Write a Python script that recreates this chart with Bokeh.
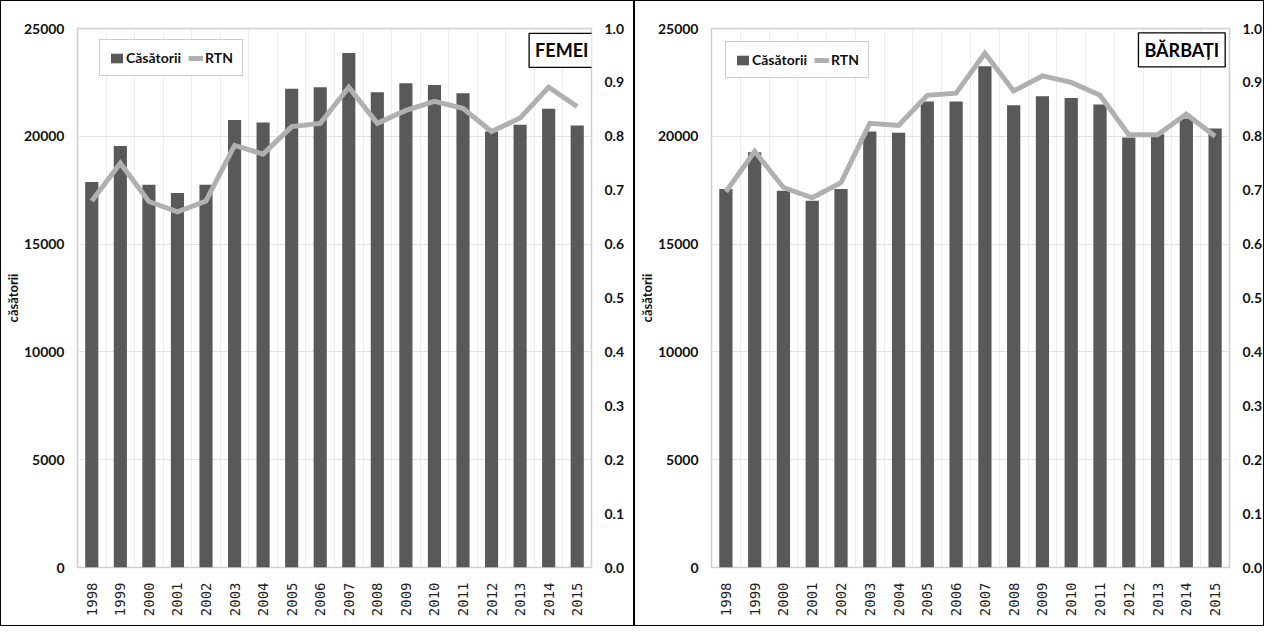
import numpy as np
from bokeh.plotting import figure
from bokeh.models import (Range1d, LinearAxis, FixedTicker, Legend, LegendItem, Label,
                          ColumnDataSource, PrintfTickFormatter)
from bokeh.layouts import row
from bokeh.embed import file_html
from bokeh.resources import INLINE

years = [str(y) for y in range(1998, 2016)]

femei_casatorii = [17880, 19550, 17750, 17370, 17750, 20760, 20640, 22200, 22280, 23860,
                   22040, 22460, 22380, 22000, 20220, 20530, 21280, 20500]
femei_rtn = [0.680, 0.750, 0.679, 0.660, 0.680, 0.783, 0.767, 0.818, 0.824, 0.891,
             0.824, 0.848, 0.865, 0.852, 0.809, 0.834, 0.891, 0.855]

barbati_casatorii = [17560, 19260, 17480, 17010, 17560, 20220, 20160, 21610, 21610, 23250,
                     21440, 21860, 21780, 21470, 19940, 20090, 20830, 20360]
barbati_rtn = [0.697, 0.772, 0.705, 0.686, 0.714, 0.824, 0.820, 0.876, 0.880, 0.954,
               0.884, 0.912, 0.900, 0.876, 0.803, 0.803, 0.841, 0.800]

left_ticks = [0, 5000, 10000, 15000, 20000, 25000]
right_ticks = [round(i / 10, 1) for i in range(11)]

BAR_COLOR = "#595959"
LINE_COLOR = "#b0b0b0"
FONT = "Lato"


def make_panel(title, cas, rtn, width, borders, legend_loc, title_xy):
    n = len(years)
    xs = list(range(n))
    src = ColumnDataSource(dict(x=xs, cas=cas, rtn=rtn))
    p = figure(width=width, height=626, output_backend="svg", toolbar_location=None,
               x_range=Range1d(-0.5, n - 0.5), y_range=Range1d(0, 25000),
               min_border_left=borders[0], min_border_right=borders[1],
               min_border_top=borders[2], min_border_bottom=borders[3],
               background_fill_color="white", border_fill_color="white")
    p.styles = {"border": "1px solid black", "box-sizing": "border-box"}
    p.outline_line_color = "#cfcfcf"
    p.outline_line_width = 1.5
    p.extra_y_ranges = {"rtn": Range1d(0, 1)}

    bars = p.vbar(x="x", top="cas", width=0.46, source=src, fill_color=BAR_COLOR,
                  line_color=None)
    line = p.line(x="x", y="rtn", source=src, y_range_name="rtn", line_color=LINE_COLOR,
                  line_width=5, line_join="miter")

    # x axis
    xa = p.xaxis[0]
    xa.ticker = FixedTicker(ticks=xs)
    xa.major_label_overrides = {i: years[i] for i in xs}
    xa.major_label_orientation = np.pi / 2
    xa.major_label_text_font = "DejaVu Sans Mono"
    xa.major_label_text_font_size = "14px"
    xa.major_label_text_color = "#222222"
    xa.axis_line_color = None
    xa.major_tick_line_color = None
    xa.minor_tick_line_color = None
    xa.major_label_standoff = 9

    # left axis
    ya = p.yaxis[0]
    ya.ticker = FixedTicker(ticks=left_ticks)
    ya.axis_line_color = None
    ya.major_tick_line_color = None
    ya.minor_tick_line_color = None
    ya.major_label_text_font = FONT
    ya.major_label_text_font_style = "bold"
    ya.major_label_text_font_size = "14px"
    ya.major_label_text_color = "#111111"
    ya.major_label_standoff = 7
    ya.axis_label = "căsătorii"
    ya.axis_label_text_font = FONT
    ya.axis_label_text_font_style = "bold"
    ya.axis_label_text_font_size = "13px"
    ya.axis_label_text_color = "#111111"
    ya.axis_label_standoff = 0

    # right axis
    ra = LinearAxis(y_range_name="rtn", ticker=FixedTicker(ticks=right_ticks),
                    formatter=PrintfTickFormatter(format="%.1f"))
    ra.axis_line_color = None
    ra.major_tick_line_color = None
    ra.minor_tick_line_color = None
    ra.major_label_text_font = FONT
    ra.major_label_text_font_style = "bold"
    ra.major_label_text_font_size = "14px"
    ra.major_label_text_color = "#111111"
    ra.major_label_standoff = 7
    p.add_layout(ra, "right")

    # grids at category boundaries and every 5000
    p.xgrid.ticker = FixedTicker(ticks=[i + 0.5 for i in range(n - 1)])
    p.xgrid.grid_line_color = "#ececec"
    p.ygrid.grid_line_color = "#e3e3e3"

    legend = Legend(items=[LegendItem(label="Căsătorii", renderers=[bars]),
                           LegendItem(label="RTN", renderers=[line])],
                    orientation="horizontal", location=legend_loc)
    legend.border_line_color = "#9a9a9a"
    legend.border_line_width = 1
    legend.background_fill_color = "white"
    legend.background_fill_alpha = 1
    legend.label_text_font = FONT
    legend.label_text_font_style = "bold"
    legend.label_text_font_size = "14px"
    legend.label_text_color = "#111111"
    legend.glyph_width = 15
    legend.glyph_height = 12
    legend.label_standoff = 2
    legend.spacing = 7
    legend.padding = 9
    legend.margin = 0
    p.add_layout(legend)

    lab = Label(x=title_xy[0], y=title_xy[1], text=title, text_align="right",
                text_baseline="top", text_font=FONT, text_font_style="bold",
                text_font_size="18px", text_color="black",
                border_line_color="black", border_line_width=1.3,
                background_fill_color="white", padding=6)
    p.add_layout(lab)
    return p


p1 = make_panel("FEMEI", femei_casatorii, femei_rtn, 634, (40, 44, 22, 60), (22, 491),
                (17.6, 24770))
p2 = make_panel("BĂRBAȚI", barbati_casatorii, barbati_rtn, 630, (50, 24, 27, 60), (14, 489),
                (17.35, 24800))

layout = row(p1, p2, spacing=0)
open("out.html", "w").write(file_html(layout, INLINE))
